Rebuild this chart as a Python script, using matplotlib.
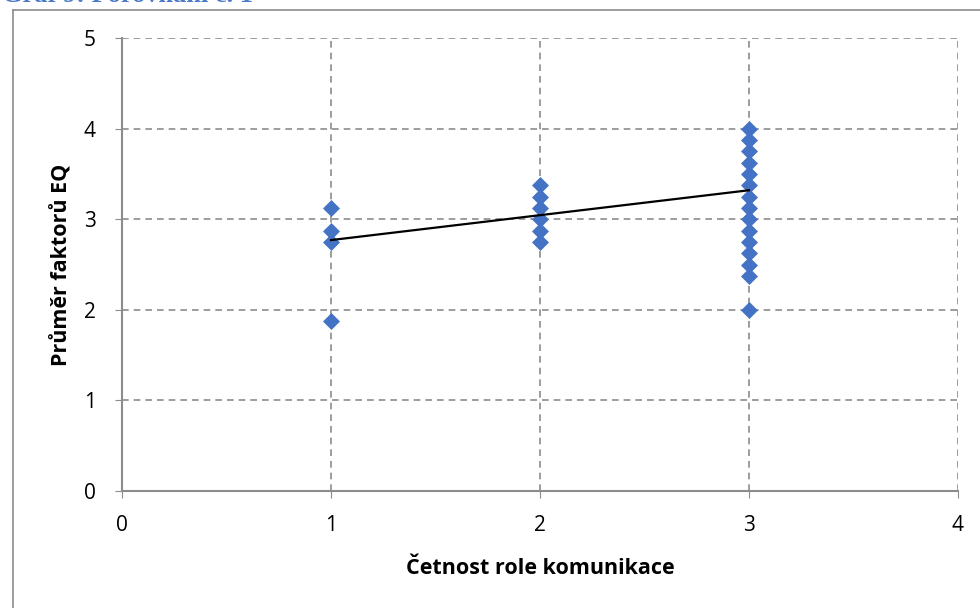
import matplotlib
matplotlib.use("Agg")
import matplotlib.pyplot as plt
from matplotlib.lines import Line2D

# data
x_role = [1, 1, 1, 1,
          2, 2, 2, 2, 2, 2,
          3, 3, 3, 3, 3, 3, 3, 3, 3, 3, 3, 3, 3, 3, 3]
y_eq = [3.125, 2.875, 2.75, 1.875,
        3.375, 3.25, 3.125, 3.0, 2.875, 2.75,
        4.0, 3.875, 3.75, 3.625, 3.5, 3.375, 3.25, 3.125, 3.0,
        2.875, 2.75, 2.625, 2.5, 2.375, 2.0]
trend_x = [1, 3]
trend_y = [2.77, 3.32]
x_ticks = [0, 1, 2, 3, 4]
y_ticks = [0, 1, 2, 3, 4, 5]

plt.rcParams['font.family'] = ['Open Sans', 'DejaVu Sans']

fig = plt.figure(figsize=(9.8, 6.08), dpi=100)
ax = fig.add_axes([0.1245, 0.1924, 0.853, 0.745])

# outer chart frame (partly cut off like the original)
fig.add_artist(Line2D([13/980, 13/980], [0, 1 - 10/608], color='#8c8c8c', lw=1.2))
fig.add_artist(Line2D([13/980, 1], [1 - 10/608, 1 - 10/608], color='#8c8c8c', lw=1.2))
fig.text(2/980, 1 + 4/608, "Graf 9: Porovnání č. 1", color='#4a7ac8', fontsize=19,
         fontweight='bold', family='Liberation Serif', va='center', ha='left')

ax.scatter(x_role, y_eq, marker='D', s=75, color='#4472C4', zorder=3, linewidths=0)
ax.plot(trend_x, trend_y, color='black', lw=1.6, zorder=4)

ax.set_xlim(0, 4)
ax.set_ylim(0, 5)
ax.set_xticks(x_ticks)
ax.set_yticks(y_ticks)
ax.grid(True, color='#8c8c8c', linestyle=(0, (4, 3)), lw=1.2)
ax.set_axisbelow(True)

for side in ['top', 'right']:
    ax.spines[side].set_visible(False)
for side in ['left', 'bottom']:
    ax.spines[side].set_color('#8c8c8c')
    ax.spines[side].set_linewidth(1.5)

ax.tick_params(axis='both', colors='#8c8c8c', labelcolor='black', labelsize=15, length=5)
ax.tick_params(axis='x', pad=12)
ax.tick_params(axis='y', pad=14)

ax.set_xlabel("Četnost role komunikace", fontsize=15.5, fontweight='bold', labelpad=16)
ax.set_ylabel("Průměr faktorů EQ", fontsize=15.5, fontweight='bold', labelpad=8)

fig.savefig("out.png", dpi=100)
